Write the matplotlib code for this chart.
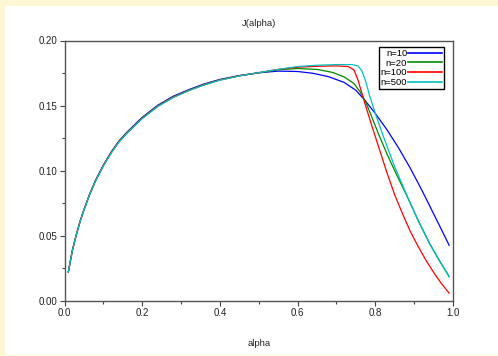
import matplotlib
matplotlib.use("Agg")
import matplotlib.pyplot as plt
from matplotlib.patches import Rectangle
from matplotlib.ticker import MultipleLocator

plt.rcParams['font.family'] = ['Liberation Sans', 'DejaVu Sans']

# ---- data ----
rise_alpha = [0.01, 0.02, 0.03, 0.04, 0.05, 0.065, 0.08, 0.10, 0.12, 0.14, 0.16,
              0.20, 0.24, 0.28, 0.32, 0.36, 0.40, 0.45, 0.50]
rise_n10  = [0.0224, 0.0385, 0.0505, 0.0610, 0.0700, 0.0822, 0.0927, 0.1043, 0.1143, 0.1228, 0.1294,
             0.1410, 0.1503, 0.1572, 0.1623, 0.1667, 0.1701, 0.1731, 0.1752]
rise_n20  = [0.0224, 0.0385, 0.0505, 0.0610, 0.0700, 0.0821, 0.0925, 0.1040, 0.1140, 0.1224, 0.1290,
             0.1405, 0.1498, 0.1567, 0.1619, 0.1663, 0.1698, 0.1729, 0.1752]
rise_n100 = [0.0224, 0.0385, 0.0505, 0.0610, 0.0700, 0.0820, 0.0924, 0.1039, 0.1138, 0.1222, 0.1288,
             0.1403, 0.1496, 0.1565, 0.1617, 0.1661, 0.1697, 0.1729, 0.1753]
rise_n500 = [0.0224, 0.0384, 0.0504, 0.0608, 0.0698, 0.0818, 0.0921, 0.1036, 0.1135, 0.1219, 0.1285,
             0.1400, 0.1493, 0.1562, 0.1615, 0.1659, 0.1695, 0.1728, 0.1753]

tail_alpha_n10 = [0.55, 0.60, 0.64, 0.68, 0.72, 0.75, 0.772, 0.80, 0.83, 0.86, 0.89, 0.92, 0.95,
                  0.97, 0.99]
tail_n10       = [0.1765, 0.1762, 0.1748, 0.1722, 0.1678, 0.1618, 0.1545, 0.1440, 0.1315, 0.1175,
                  0.1020, 0.0850, 0.0670, 0.0550, 0.0428]

tail_alpha_n20 = [0.55, 0.60, 0.65, 0.69, 0.72, 0.745, 0.76, 0.775, 0.79, 0.81, 0.83, 0.85, 0.88,
                  0.91, 0.94, 0.965, 0.99]
tail_n20       = [0.1775, 0.1785, 0.1778, 0.1755, 0.1720, 0.1670, 0.1610, 0.1530, 0.1420, 0.1270,
                  0.1130, 0.1000, 0.0815, 0.0620, 0.0440, 0.0310, 0.0188]

tail_alpha_n100 = [0.55, 0.60, 0.65, 0.70, 0.73, 0.745, 0.755, 0.765, 0.775, 0.79, 0.81, 0.83, 0.85,
                   0.87, 0.89, 0.91, 0.93, 0.95, 0.97, 0.99]
tail_n100       = [0.1778, 0.1795, 0.1802, 0.1805, 0.1800, 0.1775, 0.1700, 0.1600, 0.1500, 0.1355,
                   0.1170, 0.0985, 0.0815, 0.0670, 0.0535, 0.0420, 0.0315, 0.0220, 0.0135, 0.0060]

tail_alpha_n500 = [0.55, 0.60, 0.65, 0.70, 0.74, 0.755, 0.765, 0.775, 0.785, 0.80, 0.82, 0.85, 0.88,
                   0.91, 0.94, 0.965, 0.99]
tail_n500       = [0.1778, 0.1800, 0.1810, 0.1815, 0.1815, 0.1805, 0.1770, 0.1690, 0.1580, 0.1440,
                   0.1270, 0.1030, 0.0820, 0.0620, 0.0440, 0.0310, 0.0186]

labels = ['n=10', 'n=20', 'n=100', 'n=500']
colors = ['#0000ff', '#008a00', '#ff0000', '#00bfbf']

series = [
    (rise_alpha + tail_alpha_n10, rise_n10 + tail_n10),
    (rise_alpha + tail_alpha_n20, rise_n20 + tail_n20),
    (rise_alpha + tail_alpha_n100, rise_n100 + tail_n100),
    (rise_alpha + tail_alpha_n500, rise_n500 + tail_n500),
]

x_ticks = [0.0, 0.2, 0.4, 0.6, 0.8, 1.0]
y_ticks = [0.00, 0.05, 0.10, 0.15, 0.20]

# ---- figure ----
fig = plt.figure(figsize=(4.98, 3.56), dpi=100, facecolor='#fff7d4')
bg = Rectangle((5 / 498, 1 / 356), 1, (356 - 7) / 356, transform=fig.transFigure,
               facecolor='white', edgecolor='none', zorder=-10)
fig.add_artist(bg)

ax = fig.add_axes([64.5 / 498, 1 - 301 / 356, (453 - 64.5) / 498, (301 - 40.5) / 356])
ax.set_zorder(5)
ax.set_facecolor('white')

for (xs, ys), lab, c in zip(series, labels, colors):
    ax.plot(xs, ys, color=c, lw=0.9, label=lab)

ax.set_xlim(0, 1)
ax.set_ylim(0, 0.2)
ax.set_xticks(x_ticks)
ax.set_xticklabels([f'{v:.1f}' for v in x_ticks])
ax.set_yticks(y_ticks)
ax.set_yticklabels([f'{v:.2f}' for v in y_ticks])
ax.xaxis.set_minor_locator(MultipleLocator(0.1))
ax.yaxis.set_minor_locator(MultipleLocator(0.025))
ax.tick_params(which='major', direction='out', length=3.5, width=0.8, color='#444444',
               labelsize=7, pad=1.5, labelcolor='#222222')
ax.tick_params(which='minor', direction='out', length=2.5, width=0.8, color='#444444')
for sp in ax.spines.values():
    sp.set_color('#555555')
    sp.set_linewidth(1.0)

ax.set_title('J(alpha)', fontsize=6.8, pad=10.5, color='#222222')
ax.set_xlabel('alpha', fontsize=6.8, labelpad=15, color='#222222')

leg = ax.legend(loc='upper right', bbox_to_anchor=(0.977, 0.975), markerfirst=False,
                fontsize=6.8, handlelength=3.6, handletextpad=0.1, borderpad=0.2,
                labelspacing=0.08, fancybox=False, framealpha=1, borderaxespad=0)
leg.get_frame().set_edgecolor('black')
leg.get_frame().set_linewidth(1.0)
for l in leg.get_lines():
    l.set_linewidth(1.2)

fig.savefig('out.png', dpi=100, facecolor=fig.get_facecolor())
